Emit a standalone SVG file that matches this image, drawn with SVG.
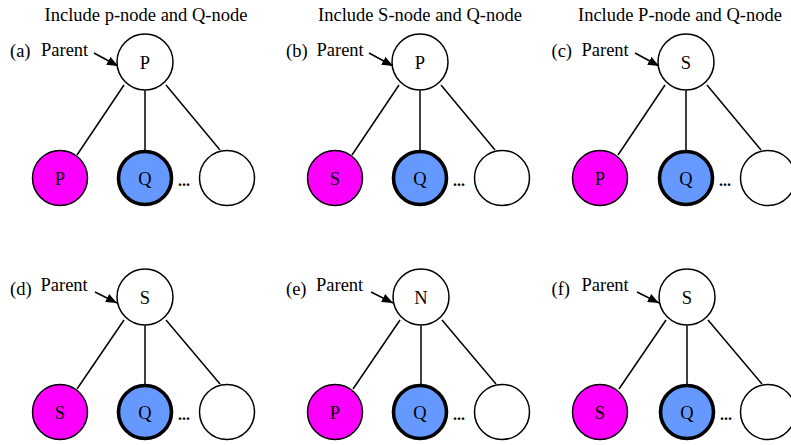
<svg xmlns="http://www.w3.org/2000/svg" width="791" height="445" viewBox="0 0 791 445">
<style>
text{font-family:"Liberation Serif","Times New Roman",serif;font-size:18.5px;fill:#000}
.c{text-anchor:middle}
.n{fill:#fff;stroke:#000;stroke-width:1.5}
.m{fill:#ff00ff;stroke:#000;stroke-width:1.5}
.q{fill:#6699ff;stroke:#000;stroke-width:3.6}
.e{stroke:#000;stroke-width:1.5;fill:none}
.a{stroke:#000;stroke-width:1.5;fill:none;marker-end:url(#ah)}
.d{font-weight:bold;font-size:16px}
</style>
<defs>
<marker id="ah" markerUnits="userSpaceOnUse" markerWidth="11" markerHeight="9" refX="11" refY="4.5" orient="auto">
<path d="M0,0 L11,4.5 L0,9 z" fill="#000"/>
</marker>
</defs>
<rect width="791" height="445" fill="#fff"/>

<g id="titles">
<text class="c" x="146" y="21">Include p-node and Q-node</text>
<text class="c" x="420" y="21">Include S-node and Q-node</text>
<text x="578" y="21">Include P-node and Q-node</text>
</g>

<g id="labels">
<text x="10" y="57">(a)</text><text x="41" y="56">Parent</text>
<text x="286" y="57">(b)</text><text x="316.5" y="56">Parent</text>
<text x="551.5" y="57">(c)</text><text x="581.5" y="56">Parent</text>
<text x="10" y="295">(d)</text><text x="40.5" y="291">Parent</text>
<text x="286" y="295">(e)</text><text x="316" y="291">Parent</text>
<text x="551.5" y="295">(f)</text><text x="581.5" y="291">Parent</text>
</g>

<g id="connectors">
<line class="e" x1="124" y1="85" x2="77" y2="155"/>
<line class="e" x1="145" y1="90.5" x2="145" y2="150"/>
<line class="e" x1="166" y1="85" x2="220" y2="150"/>
<line class="a" x1="94" y1="53" x2="118" y2="66"/>

<line class="e" x1="399" y1="85" x2="352" y2="155"/>
<line class="e" x1="420" y1="90.5" x2="420" y2="150"/>
<line class="e" x1="441" y1="85" x2="495" y2="150"/>
<line class="a" x1="369" y1="53" x2="393" y2="66"/>

<line class="e" x1="665" y1="85" x2="618" y2="155"/>
<line class="e" x1="686" y1="90.5" x2="686" y2="150"/>
<line class="e" x1="707" y1="85" x2="761" y2="150"/>
<line class="a" x1="635" y1="53" x2="659" y2="66"/>

<line class="e" x1="124" y1="320" x2="77" y2="389"/>
<line class="e" x1="145" y1="325.5" x2="145" y2="384"/>
<line class="e" x1="166" y1="320" x2="220" y2="384"/>
<line class="a" x1="95" y1="292" x2="117" y2="303"/>

<line class="e" x1="400" y1="320" x2="353" y2="389"/>
<line class="e" x1="421" y1="325.5" x2="421" y2="384"/>
<line class="e" x1="442" y1="320" x2="496" y2="384"/>
<line class="a" x1="371" y1="292" x2="393" y2="303"/>

<line class="e" x1="666" y1="320" x2="619" y2="389"/>
<line class="e" x1="687" y1="325.5" x2="687" y2="384"/>
<line class="e" x1="708" y1="320" x2="762" y2="384"/>
<line class="a" x1="637" y1="292" x2="659" y2="303"/>
</g>

<!-- Panel a -->
<g id="a-parent"><circle class="n" cx="145" cy="62" r="28"/><text class="c" x="145" y="68.5">P</text></g>
<g id="a-child1"><circle class="m" cx="60" cy="178" r="27.5"/><text class="c" x="60" y="184.5">P</text></g>
<g id="a-child2"><circle class="q" cx="145" cy="178" r="26.5"/><text class="c" x="145" y="184.5">Q</text></g>
<g id="a-dots"><text class="d" x="178" y="186">...</text></g>
<g id="a-child3"><circle class="n" cx="227" cy="178" r="27.5"/></g>

<!-- Panel b -->
<g id="b-parent"><circle class="n" cx="420" cy="62" r="28"/><text class="c" x="420" y="68.5">P</text></g>
<g id="b-child1"><circle class="m" cx="335" cy="178" r="27.5"/><text class="c" x="335" y="184.5">S</text></g>
<g id="b-child2"><circle class="q" cx="420" cy="178" r="26.5"/><text class="c" x="420" y="184.5">Q</text></g>
<g id="b-dots"><text class="d" x="453" y="186">...</text></g>
<g id="b-child3"><circle class="n" cx="502" cy="178" r="27.5"/></g>

<!-- Panel c -->
<g id="c-parent"><circle class="n" cx="686" cy="62" r="28"/><text class="c" x="686" y="68.5">S</text></g>
<g id="c-child1"><circle class="m" cx="600" cy="178" r="27.5"/><text class="c" x="600" y="184.5">P</text></g>
<g id="c-child2"><circle class="q" cx="686" cy="178" r="26.5"/><text class="c" x="686" y="184.5">Q</text></g>
<g id="c-dots"><text class="d" x="719" y="186">...</text></g>
<g id="c-child3"><circle class="n" cx="768" cy="178" r="27.5"/></g>

<!-- Panel d -->
<g id="d-parent"><circle class="n" cx="145" cy="297" r="28"/><text class="c" x="145" y="303.5">S</text></g>
<g id="d-child1"><circle class="m" cx="60" cy="412" r="27.5"/><text class="c" x="60" y="418.5">S</text></g>
<g id="d-child2"><circle class="q" cx="145" cy="412" r="26.5"/><text class="c" x="145" y="418.5">Q</text></g>
<g id="d-dots"><text class="d" x="178" y="420">...</text></g>
<g id="d-child3"><circle class="n" cx="227" cy="412" r="27.5"/></g>

<!-- Panel e -->
<g id="e-parent"><circle class="n" cx="421" cy="297" r="28"/><text class="c" x="421" y="303.5">N</text></g>
<g id="e-child1"><circle class="m" cx="335" cy="412" r="27.5"/><text class="c" x="335" y="418.5">P</text></g>
<g id="e-child2"><circle class="q" cx="420" cy="412" r="26.5"/><text class="c" x="420" y="418.5">Q</text></g>
<g id="e-dots"><text class="d" x="453" y="420">...</text></g>
<g id="e-child3"><circle class="n" cx="502" cy="412" r="27.5"/></g>

<!-- Panel f -->
<g id="f-parent"><circle class="n" cx="687" cy="297" r="28"/><text class="c" x="687" y="303.5">S</text></g>
<g id="f-child1"><circle class="m" cx="600" cy="412" r="27.5"/><text class="c" x="600" y="418.5">S</text></g>
<g id="f-child2"><circle class="q" cx="687" cy="412" r="26.5"/><text class="c" x="687" y="418.5">Q</text></g>
<g id="f-dots"><text class="d" x="720" y="420">...</text></g>
<g id="f-child3"><circle class="n" cx="768" cy="412" r="27.5"/></g>
</svg>
